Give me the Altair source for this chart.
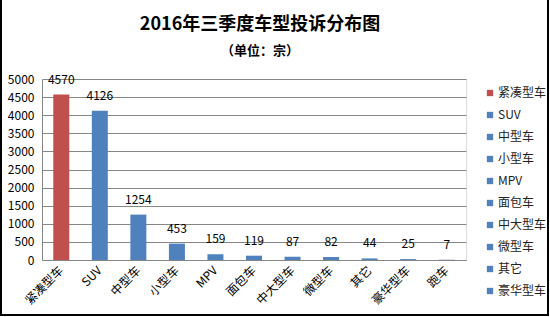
import altair as alt
import pandas as pd

categories = ["紧凑型车", "SUV", "中型车", "小型车", "MPV", "面包车", "中大型车", "微型车", "其它", "豪华型车", "跑车"]
values = [4570, 4126, 1254, 453, 159, 119, 87, 82, 44, 25, 7]
legend_items = categories[:10]
colors = ["#C0504D"] + ["#4F81BD"] * 10
y_ticks = list(range(0, 5001, 500))
title_text = "2016年三季度车型投诉分布图"
subtitle_text = "（单位：宗）"

df = pd.DataFrame({"车型": categories, "投诉": values})

FONT = "Noto Sans CJK SC"

x_enc = alt.X("车型:N", sort=categories,
              scale=alt.Scale(paddingInner=0, paddingOuter=0),
              axis=alt.Axis(title=None, labelAngle=-45, labelAlign="right", labelBaseline="middle",
                            labelPadding=8, ticks=False, domainColor="#868686", labelFontSize=12,
                            labelColor="#000000", labelFont=FONT))
y_enc = alt.Y("投诉:Q", scale=alt.Scale(domain=[0, 5000], nice=False),
              axis=alt.Axis(title=None, values=y_ticks, format="d", ticks=False, labelPadding=8,
                            gridColor="#868686", domainColor="#868686", labelFontSize=12,
                            labelColor="#000000", labelFont=FONT))

base = alt.Chart(df).encode(x=x_enc, y=y_enc)

bars = base.mark_bar(size=16).encode(
    color=alt.Color("车型:N", sort=categories,
                    scale=alt.Scale(domain=categories, range=colors),
                    legend=alt.Legend(title=None, values=legend_items, orient="none",
                                      legendX=442, legendY=8, symbolType="square", symbolSize=40,
                                      symbolStrokeWidth=0, labelFontSize=12, labelFont=FONT,
                                      labelColor="#222222", rowPadding=10, labelOffset=2)),
)

labels = base.mark_text(baseline="bottom", dy=-8, fontSize=12, font=FONT, color="#000000").encode(
    text="投诉:Q",
)

title = alt.Chart(pd.DataFrame({"t": [title_text]})).mark_text(
    fontSize=18, fontWeight="bold", font=FONT, color="#000000", baseline="middle", align="center"
).encode(text="t:N", x=alt.value(218), y=alt.value(-54))

subtitle = alt.Chart(pd.DataFrame({"t": [subtitle_text]})).mark_text(
    fontSize=13, fontWeight="bold", font=FONT, color="#000000", baseline="middle", align="center"
).encode(text="t:N", x=alt.value(218), y=alt.value(-28))

frame = alt.Chart(df).mark_rect(fill=None, stroke="#000000", strokeWidth=2).encode(
    x=alt.value(-41), x2=alt.value(506), y=alt.value(-90), y2=alt.value(236)
)

chart = alt.layer(bars, labels, title, subtitle, frame).properties(
    width=424,
    height=181,
    autosize=alt.AutoSizeParams(type="none"),
    padding={"left": 42, "top": 79, "right": 84, "bottom": 57},
).configure_view(stroke=None).configure(background="#ffffff")

chart.save("out.html", embed_options={"renderer": "svg", "actions": False})
